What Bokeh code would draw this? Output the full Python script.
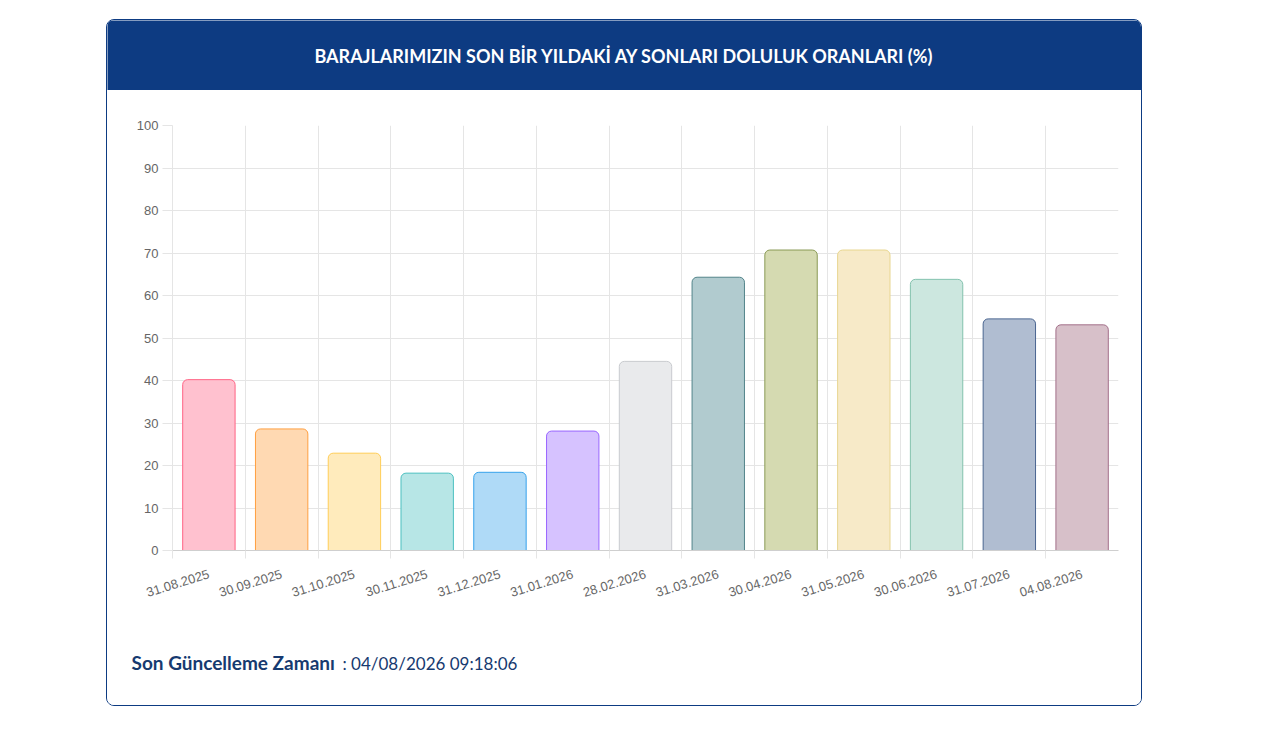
from bokeh.plotting import figure
from bokeh.layouts import column
from bokeh.models import ColumnDataSource, Range1d, FixedTicker, Label
from bokeh.embed import file_html
from bokeh.resources import INLINE

dates = ["31.08.2025", "30.09.2025", "31.10.2025", "30.11.2025", "31.12.2025",
         "31.01.2026", "28.02.2026", "31.03.2026", "30.04.2026", "31.05.2026",
         "30.06.2026", "31.07.2026", "04.08.2026"]
values = [40.2, 28.6, 22.9, 18.2, 18.4, 28.1, 44.5, 64.3, 70.7, 70.7, 63.8, 54.5, 53.1]
fills = ["#ffc1cf", "#ffd9b2", "#ffebbc", "#b7e6e6", "#afdaf7", "#d6c2ff", "#e9eaec",
         "#b1cbcf", "#d5dab1", "#f7eac8", "#cce7df", "#b0bdd1", "#d7c0c9"]
edges = ["#ff6384", "#ff9f40", "#ffcd56", "#4bc0c0", "#36a2eb", "#9966ff", "#c9cbcf",
         "#52848a", "#8a9a55", "#e8d690", "#84c2ae", "#4a6590", "#a3708a"]
y_ticks = list(range(0, 101, 10))

TITLE = "BARAJLARIMIZIN SON BİR YILDAKİ AY SONLARI DOLULUK ORANLARI (%)"
NAVY = "#0d3b82"
GRID = "#e5e5e5"
TXT = "#666666"
W = 1034

n = len(dates)
centers = [i + 0.5 for i in range(n)]

# header band
head = figure(width=W, height=70, toolbar_location=None, output_backend="svg",
              x_axis_type=None, y_axis_type=None, min_border=0, frame_align=False,
              x_range=Range1d(0, 1), y_range=Range1d(0, 1),
              background_fill_color=NAVY, border_fill_color=NAVY, outline_line_color=None)
head.add_layout(Label(x=517, y=35, x_units="screen", y_units="screen", text=TITLE,
                      text_align="center", text_baseline="middle", text_color="white",
                      text_font="Lato", text_font_size="18px", text_font_style="bold"))

# bar chart
src = ColumnDataSource(dict(x=centers, top=values, fill=fills, edge=edges))
p = figure(width=W, height=530, x_range=Range1d(0, n), y_range=Range1d(0, 100),
           toolbar_location=None, output_backend="svg", frame_align=False,
           min_border_left=65, min_border_right=23, min_border_top=35, min_border_bottom=70,
           outline_line_color=None)
p.vbar(x="x", top="top", bottom=0, width=0.72, fill_color="fill", line_color="edge",
       line_width=1, border_radius=(5, 5, 0, 0), source=src)

p.xaxis.ticker = FixedTicker(ticks=centers, minor_ticks=list(range(n)))
p.xaxis.major_label_overrides = {c: d for c, d in zip(centers, dates)}
p.xaxis.major_label_orientation = 0.3
p.xaxis.major_tick_in = 0
p.xaxis.major_tick_out = 0
p.xaxis.minor_tick_in = 0
p.xaxis.minor_tick_out = 8
p.xaxis.minor_tick_line_color = GRID
p.xaxis.axis_line_color = "#cfcfcf"
p.xaxis.major_label_standoff = 15

p.yaxis.ticker = FixedTicker(ticks=y_ticks)
p.yaxis.major_tick_in = 0
p.yaxis.major_tick_out = 10
p.yaxis.major_tick_line_color = GRID
p.yaxis.axis_line_color = GRID
p.yaxis.major_label_standoff = 4

for ax in (p.xaxis, p.yaxis):
    ax.major_label_text_color = TXT
    ax.major_label_text_font = "Liberation Sans"
    ax.major_label_text_font_size = "13px"

p.xgrid.ticker = FixedTicker(ticks=list(range(n)))
p.xgrid.grid_line_color = GRID
p.ygrid.grid_line_color = GRID

# footer
foot = figure(width=W, height=85, toolbar_location=None, output_backend="svg",
              x_axis_type=None, y_axis_type=None, min_border=0, frame_align=False,
              x_range=Range1d(0, 1), y_range=Range1d(0, 1), outline_line_color=None)
foot.add_layout(Label(x=24, y=32, x_units="screen", y_units="screen",
                      text="Son Güncelleme Zamanı", text_color="#163a70",
                      text_font="Lato", text_font_size="19px", text_font_style="bold"))
foot.add_layout(Label(x=235, y=32, x_units="screen", y_units="screen",
                      text=": 04/08/2026 09:18:06", text_color="#163a70",
                      text_font="Lato", text_font_size="17px"))

card = column(head, p, foot, margin=(19, 0, 0, 106),
              styles={"border": "1px solid " + NAVY, "border-radius": "8px", "overflow": "hidden"})

open("out.html", "w").write(file_html(card, INLINE))
